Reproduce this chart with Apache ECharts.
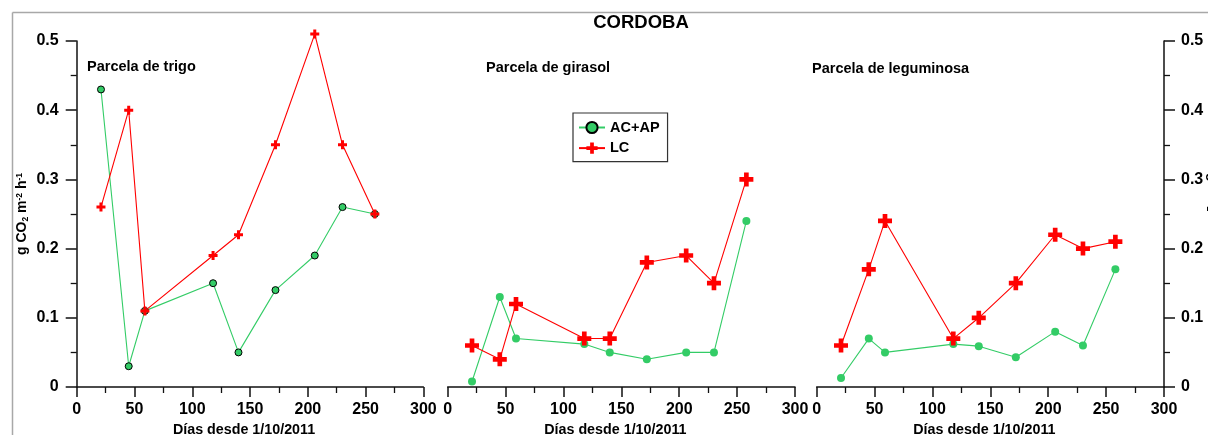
<!DOCTYPE html>
<html>
<head>
<meta charset="utf-8">
<script src="https://cdn.jsdelivr.net/npm/echarts@6/dist/echarts.min.js"></script>
<style>
html,body{margin:0;padding:0;background:#fff;}
#c{width:1208px;height:435px;}
</style>
</head>
<body>
<div id="c"></div>
<script>
// ---- data ----
const days = [21, 45, 59, 118, 140, 172, 206, 230, 258];
const trigoACAP = [0.43, 0.03, 0.11, 0.15, 0.05, 0.14, 0.19, 0.26, 0.25];
const trigoLC = [0.26, 0.40, 0.11, 0.19, 0.22, 0.35, 0.51, 0.35, 0.25];
const girasolACAP = [0.008, 0.13, 0.07, 0.062, 0.05, 0.04, 0.05, 0.05, 0.24];
const girasolLC = [0.06, 0.04, 0.12, 0.07, 0.07, 0.18, 0.19, 0.15, 0.30];
const legumACAP = [0.013, 0.07, 0.05, 0.062, 0.059, 0.043, 0.08, 0.06, 0.17];
const legumLC = [0.06, 0.17, 0.24, 0.07, 0.10, 0.15, 0.22, 0.20, 0.21];
const panelTitles = ['Parcela de trigo', 'Parcela de girasol', 'Parcela de leguminosa'];
const seriesNames = ['AC+AP', 'LC'];
const xTitle = 'Días desde 1/10/2011';
const mainTitle = 'CORDOBA';

const FONT = '"Liberation Sans", Arial, sans-serif';
const GREEN = '#33cc66';
const RED = '#ff0000';
const AXC = '#111';
const CROSS = 'path://M1,0H2V1H3V2H2V3H1V2H0V1H1Z';

const pair = (vals) => days.map((d, i) => [d, vals[i]]);

const grids = [
  {left: 76.7, top: 41, width: 346.7, height: 346, outerBoundsMode: 'none', containLabel: false},
  {left: 447.7, top: 41, width: 347.3, height: 346, outerBoundsMode: 'none', containLabel: false},
  {left: 816.7, top: 41, width: 347.3, height: 346, outerBoundsMode: 'none', containLabel: false}
];

const xAxes = grids.map((g, i) => ({
  type: 'value', gridIndex: i, min: 0, max: 300, interval: 50,
  name: xTitle, nameLocation: 'middle', nameGap: 33,
  nameTextStyle: {fontFamily: FONT, fontWeight: 'bold', fontSize: 14.3, color: '#000', padding: [0, 12, 0, 0]},
  axisLine: {show: true, onZero: false, lineStyle: {color: AXC, width: 1.5}},
  axisTick: {show: true, length: 10, lineStyle: {color: AXC, width: 1.5}},
  minorTick: {show: true, splitNumber: 2, length: 6, lineStyle: {color: AXC, width: 1.3}},
  splitLine: {show: false},
  axisLabel: {fontFamily: FONT, fontWeight: 'bold', fontSize: 16, color: '#000', margin: 15}
}));

const yName = '{a|g CO}{s|2}{a| m}{p|-2}{a| h}{p|-1}';
const yRich = {
  a: {fontFamily: FONT, fontWeight: 'bold', fontSize: 14, color: '#000', lineHeight: 18},
  s: {fontFamily: FONT, fontWeight: 'bold', fontSize: 8.5, color: '#000', lineHeight: 18, verticalAlign: 'bottom', padding: [0, 0, 1, 0]},
  p: {fontFamily: FONT, fontWeight: 'bold', fontSize: 8.5, color: '#000', lineHeight: 18, verticalAlign: 'top', padding: [2, 0, 0, 0]}
};

const baseY = {
  type: 'value', min: 0, max: 0.5, interval: 0.1,
  axisLine: {show: true, onZero: false, lineStyle: {color: AXC, width: 1.5}},
  axisTick: {show: true, length: 11, lineStyle: {color: AXC, width: 1.5}},
  minorTick: {show: true, splitNumber: 2, length: 6, lineStyle: {color: AXC, width: 1.3}},
  splitLine: {show: false},
  axisLabel: {fontFamily: FONT, fontWeight: 'bold', fontSize: 16, color: '#000', margin: 18}
};

const yAxes = [
  Object.assign({}, baseY, {gridIndex: 0, position: 'left', name: yName, nameLocation: 'middle', nameGap: 46,
    nameMoveOverlap: false, nameTextStyle: {rich: yRich}}),
  Object.assign({}, baseY, {gridIndex: 1, show: false}),
  Object.assign({}, baseY, {gridIndex: 2, position: 'right', name: yName, nameLocation: 'middle', nameGap: 40, nameRotate: -90,
    nameMoveOverlap: false, nameTextStyle: {rich: yRich}, axisLabel: Object.assign({}, baseY.axisLabel, {margin: 17})})
];

function greenSeries(idx, vals, bordered) {
  return {
    name: seriesNames[0], type: 'line', xAxisIndex: idx, yAxisIndex: idx, data: pair(vals),
    symbol: 'circle', symbolSize: bordered ? 7 : 8, clip: false,
    lineStyle: {color: GREEN, width: 1.1},
    itemStyle: bordered ? {color: GREEN, borderColor: '#000', borderWidth: 1} : {color: GREEN, borderWidth: 0},
    z: 2
  };
}
function redSeries(idx, vals, size) {
  return {
    name: seriesNames[1], type: 'line', xAxisIndex: idx, yAxisIndex: idx, data: pair(vals),
    symbol: CROSS, symbolSize: size, clip: false,
    lineStyle: {color: RED, width: 1.1},
    itemStyle: {color: RED, borderWidth: 0},
    z: 3
  };
}

const series = [
  greenSeries(0, trigoACAP, true),
  redSeries(0, trigoLC, 9),
  greenSeries(1, girasolACAP, false),
  redSeries(1, girasolLC, 14),
  greenSeries(2, legumACAP, false),
  redSeries(2, legumLC, 14)
];

const titleStyle = {fontFamily: FONT, fontWeight: 'bold', fontSize: 14.5, color: '#000'};

const option = {
  animation: false,
  backgroundColor: '#fff',
  title: [
    {text: mainTitle, left: 641, top: 13, textAlign: 'center', padding: 0,
      textStyle: {fontFamily: FONT, fontWeight: 'bold', fontSize: 18.5, color: '#000'}},
    {text: panelTitles[0], left: 87, top: 59, padding: 0, textStyle: titleStyle},
    {text: panelTitles[1], left: 486, top: 60, padding: 0, textStyle: titleStyle},
    {text: panelTitles[2], left: 812, top: 61, padding: 0, textStyle: titleStyle}
  ],
  legend: {
    data: seriesNames, orient: 'vertical', left: 573, top: 113,
    padding: [7, 8, 6, 5], itemGap: 5.6, itemWidth: 26, itemHeight: 14,
    borderColor: '#333', borderWidth: 1.2,
    textStyle: {fontFamily: FONT, fontWeight: 'bold', fontSize: 14.5, color: '#000'}
  },
  grid: grids,
  xAxis: xAxes,
  yAxis: yAxes,
  series: series,
  graphic: [
    {type: 'line', shape: {x1: 12.5, y1: 12.5, x2: 1208, y2: 12.5}, style: {stroke: '#a8a8a8', lineWidth: 1.5}, silent: true},
    {type: 'line', shape: {x1: 12.5, y1: 12.5, x2: 12.5, y2: 435}, style: {stroke: '#a8a8a8', lineWidth: 1.5}, silent: true}
  ]
};

const chart = echarts.init(document.getElementById('c'), null, {renderer: 'canvas'});
chart.setOption(option);
</script>
</body>
</html>
